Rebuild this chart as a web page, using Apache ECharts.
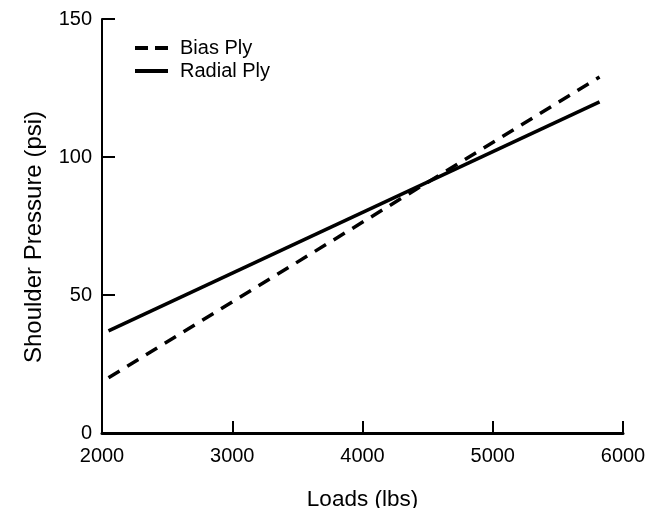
<!DOCTYPE html>
<html>
<head>
<meta charset="utf-8">
<script src="https://cdn.jsdelivr.net/npm/echarts@6/dist/echarts.min.js"></script>
<style>
  html, body { margin: 0; padding: 0; background: #fff; }
  #chart { width: 655px; height: 508px; }
</style>
</head>
<body>
<div id="chart"></div>
<script>
// Shoulder pressure vs. load for two tire constructions
const loads = [2050, 5820];
const biasPly = [20, 129];
const radialPly = [37, 120];
const seriesNames = ['Bias Ply', 'Radial Ply'];

const FONT = '"Liberation Sans", Arial, Helvetica, sans-serif';
const chart = echarts.init(document.getElementById('chart'), null, { renderer: 'canvas' });

const toPairs = (ys) => loads.map((x, i) => [x, ys[i]]);

// legend keys: a two-dash sample and a solid bar
const dashedKey = 'path://M0,0h13v4h-13z M20,0h13v4h-13z';
const solidKey = 'path://M0,0h33v4h-33z';

chart.setOption({
  backgroundColor: '#ffffff',
  animation: false,
  textStyle: { fontFamily: FONT, color: '#000' },
  grid: { left: 102, right: 32, top: 19, bottom: 75, containLabel: false, outerBoundsMode: 'none' },
  legend: {
    orient: 'vertical',
    left: 130,
    top: 33,
    itemWidth: 33,
    itemHeight: 4,
    itemGap: 3,
    textStyle: { fontFamily: FONT, fontSize: 20, color: '#000', padding: [0, 0, 0, 7], lineHeight: 17 },
    itemStyle: { color: '#000' },
    data: [
      { name: seriesNames[0], icon: dashedKey },
      { name: seriesNames[1], icon: solidKey }
    ]
  },
  xAxis: {
    type: 'value',
    min: 2000,
    max: 6000,
    interval: 1000,
    name: 'Loads (lbs)',
    nameLocation: 'middle',
    nameGap: 55,
    nameTextStyle: { fontFamily: FONT, fontSize: 22.5, color: '#000' },
    axisLine: { show: true, lineStyle: { color: '#000', width: 3 } },
    axisTick: { show: true, inside: true, length: 12, lineStyle: { color: '#000', width: 2 } },
    axisLabel: { fontFamily: FONT, fontSize: 20, color: '#000', margin: 13, formatter: (v) => String(v) },
    splitLine: { show: false }
  },
  yAxis: {
    type: 'value',
    min: 0,
    max: 150,
    interval: 50,
    name: 'Shoulder Pressure (psi)',
    nameLocation: 'middle',
    nameGap: 56,
    nameRotate: 90,
    nameTextStyle: { fontFamily: FONT, fontSize: 24, color: '#000', padding: [0, 22, 0, 0] },
    axisLine: { show: true, lineStyle: { color: '#000', width: 2 } },
    axisTick: { show: true, inside: true, length: 13, lineStyle: { color: '#000', width: 2 } },
    axisLabel: { fontFamily: FONT, fontSize: 20, color: '#000', margin: 10 },
    splitLine: { show: false }
  },
  series: [
    {
      name: seriesNames[0],
      type: 'line',
      data: toPairs(biasPly),
      symbol: 'none',
      lineStyle: { color: '#000', width: 3.5, type: [13, 9] },
      itemStyle: { color: '#000' }
    },
    {
      name: seriesNames[1],
      type: 'line',
      data: toPairs(radialPly),
      symbol: 'none',
      lineStyle: { color: '#000', width: 3.5, type: 'solid' },
      itemStyle: { color: '#000' }
    }
  ]
});
</script>
</body>
</html>
